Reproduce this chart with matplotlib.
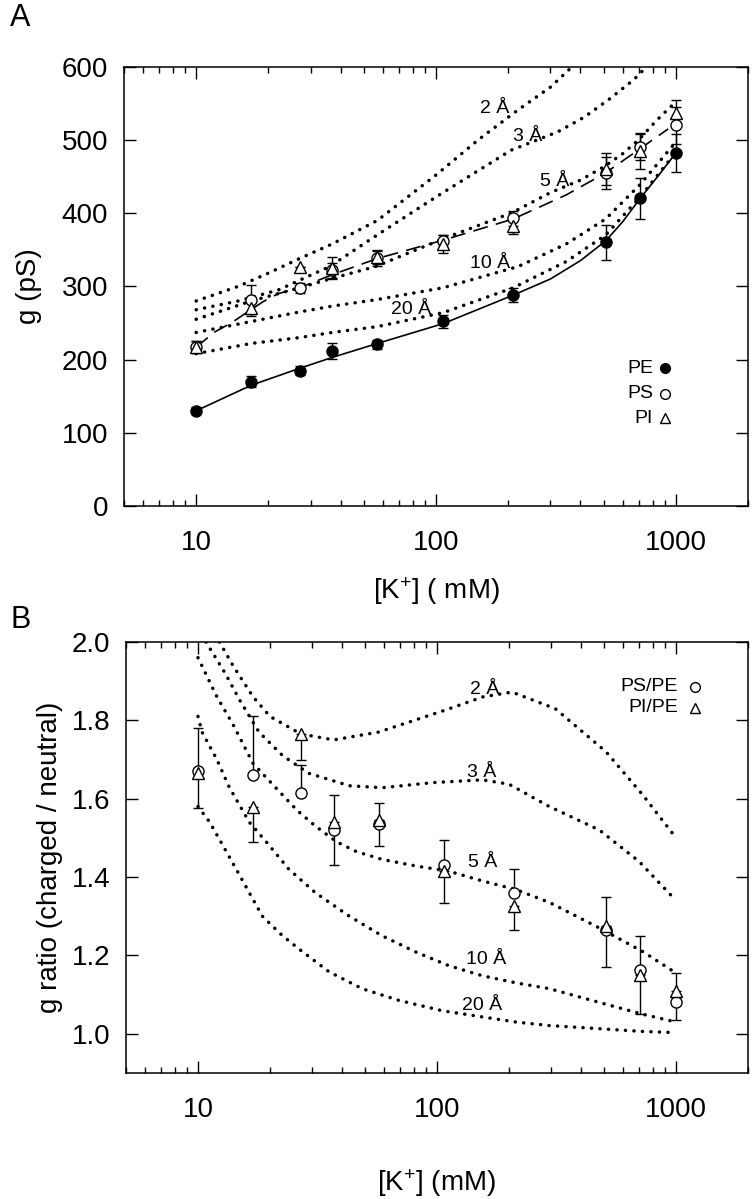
import matplotlib
matplotlib.use("Agg")
import matplotlib.pyplot as plt
from matplotlib.ticker import LogLocator, FuncFormatter, NullFormatter, MultipleLocator

plt.rcParams['font.family'] = ['Liberation Sans', 'DejaVu Sans']
plt.rcParams['mathtext.fontset'] = 'custom'
plt.rcParams['mathtext.rm'] = 'Liberation Sans'
plt.rcParams['mathtext.it'] = 'Liberation Sans:italic'
plt.rcParams['mathtext.bf'] = 'Liberation Sans:bold'

###############################################################
#               data, panel A  (g in pS)
###############################################################
conc = [10, 17, 27, 37, 57, 107, 210, 510, 710, 1000]

pe = [130, 170, 185, 212, 221, 252, 288, 360, 420, 482]
pe_err = [5, 8, 6, 11, 6, 9, 10, 24, 28, 26]
ps = [217, 282, 298, 322, 338, 362, 393, 455, 490, 520]
ps_err = [8, 20, 7, 10, 10, 8, 10, 22, 18, 25]
pi = [217, 270, 327, 325, 340, 358, 382, 460, 485, 537]
pi_err = [8, 10, 0, 15, 10, 12, 10, 22, 25, 18]

# fitted lines
pe_fit_x = [10, 17, 27, 37, 57, 107, 210, 300, 400, 510, 600, 710, 850, 1000]
pe_fit_y = [130, 165, 188, 203, 222, 249, 288, 310, 335, 362, 388, 420, 452, 482]
ps_fit_x = [10, 12, 14, 19, 22, 27, 37, 57, 107, 210, 350, 510, 710, 930]
ps_fit_y = [217, 238, 250, 279, 290, 298, 316, 338, 363, 392, 425, 455, 488, 515]

# model curves (dotted), by distance
a_x_2 = [10, 15, 20, 27, 37, 57, 100, 150, 220, 300, 370, 400]
a_y_2 = [280, 300, 318, 338, 358, 390, 452, 500, 541, 572, 600, 610]
a_x_3 = [10, 15, 22, 36, 58, 100, 150, 206, 322, 415, 525, 667, 800]
a_y_3 = [268, 280, 295, 327, 372, 422, 458, 486, 511, 531, 555, 582, 608]
a_x_5 = [10, 17, 27, 37, 56, 109, 206, 300, 400, 500, 600, 700, 834, 1000]
a_y_5 = [255, 280, 298, 311, 327, 366, 400, 428, 445, 463, 481, 500, 527, 552]
a_x_10 = [10, 17, 27, 37, 57, 107, 220, 350, 510, 710, 1000]
a_y_10 = [237, 252, 265, 273, 282, 298, 327, 358, 392, 439, 497]
a_x_20 = [10, 17, 27, 37, 57, 107, 210, 350, 510, 710, 1000]
a_y_20 = [208, 222, 230, 237, 245, 264, 298, 334, 370, 422, 483]

a_lbl = ['2 Å', '3 Å', '5 Å', '10 Å', '20 Å']
a_lbl_x = [176, 241, 312, 168, 79]
a_lbl_y = [543, 504, 443, 331, 268]

###############################################################
#               data, panel B  (ratio)
###############################################################
r_ps = [1.67, 1.66, 1.615, 1.52, 1.535, 1.43, 1.36, 1.265, 1.163, 1.08]
r_ps_lo = [0, 0, 0, 0.09, 0, 0, 0, 0.095, 0, 0.045]
r_ps_hi = [0.11, 0.15, 0.07, 0, 0.055, 0.065, 0.06, 0, 0.087, 0]
r_pi = [1.665, 1.58, 1.765, 1.54, 1.545, 1.415, 1.325, 1.275, 1.15, 1.11]
r_pi_lo = [0.09, 0.09, 0.065, 0, 0.065, 0.08, 0.06, 0, 0.10, 0]
r_pi_hi = [0, 0, 0, 0.07, 0, 0, 0, 0.075, 0, 0.045]

b_x_2 = [12.3, 14, 17, 20, 27, 37, 57, 107, 156, 206, 312, 509, 725, 1000]
b_y_2 = [2.0, 1.94, 1.86, 1.81, 1.765, 1.75, 1.77, 1.825, 1.86, 1.872, 1.83, 1.72, 1.61, 1.50]
b_x_3 = [10.8, 13, 15, 18, 22.6, 29, 43, 59, 96, 155, 200, 295, 478, 700, 1000]
b_y_3 = [2.0, 1.92, 1.85, 1.77, 1.71, 1.665, 1.633, 1.628, 1.641, 1.648, 1.637, 1.58, 1.52, 1.44, 1.34]
b_x_5 = [10, 12, 14, 17, 21, 26, 31, 38, 46, 59, 82, 112, 155, 214, 296, 478, 725, 1000]
b_y_5 = [1.96, 1.86, 1.79, 1.69, 1.63, 1.57, 1.53, 1.49, 1.465, 1.445, 1.428, 1.415, 1.39,
         1.368, 1.335, 1.27, 1.21, 1.155]
b_x_10 = [10, 10.4, 12, 13.5, 16.4, 19.3, 24, 31, 43, 59, 82, 112, 155, 214, 296, 478, 725, 1000]
b_y_10 = [1.81, 1.77, 1.70, 1.63, 1.54, 1.49, 1.42, 1.36, 1.30, 1.25, 1.208, 1.174, 1.148,
          1.13, 1.115, 1.08, 1.05, 1.03]
b_x_20 = [10, 11.2, 13, 15.4, 18.6, 22.6, 27.3, 35.4, 48.7, 69.5, 105, 155, 214, 296, 478, 725, 1000]
b_y_20 = [1.58, 1.54, 1.47, 1.39, 1.30, 1.25, 1.21, 1.158, 1.115, 1.085, 1.059, 1.043, 1.03,
          1.021, 1.013, 1.006, 1.003]

b_lbl = ['2 Å', '3 Å', '5 Å', '10 Å', '20 Å']
b_lbl_x = [158, 153, 155, 160, 155]
b_lbl_y = [1.878, 1.667, 1.437, 1.19, 1.072]

###############################################################
#                       plotting
###############################################################
dot = dict(color='black', lw=2.5, linestyle=(0, (0.05, 2.4)), dash_capstyle='round')
mk = dict(color='black', ms=8, mew=1.0, capsize=3.6, elinewidth=1.0, capthick=1.0, linestyle='none')
TXT = 14


def style(ax):
    ax.set_xscale('log')
    ax.set_xlim(5, 2000)
    ax.xaxis.set_major_locator(LogLocator(base=10))
    ax.xaxis.set_minor_locator(LogLocator(base=10, subs=range(2, 10)))
    ax.xaxis.set_major_formatter(FuncFormatter(lambda v, p: '%g' % v))
    ax.xaxis.set_minor_formatter(NullFormatter())
    ax.tick_params(which='both', direction='in', top=True, right=True, width=1.0, labelsize=20)
    ax.tick_params(which='major', length=8.6)
    ax.tick_params(which='minor', length=4.3)
    ax.tick_params(axis='x', pad=17)
    ax.tick_params(axis='y', pad=11.5)
    for s in ax.spines.values():
        s.set_linewidth(1.1)


fig = plt.figure(figsize=(7.55, 11.99), dpi=100)

# ---------------- A ----------------
ax = fig.add_axes([0.1642, 0.5780, 0.8265, 0.3664])
style(ax)
ax.set_ylim(0, 600)
ax.yaxis.set_major_locator(MultipleLocator(100))

for xx, yy in [(a_x_2, a_y_2), (a_x_3, a_y_3), (a_x_5, a_y_5), (a_x_10, a_y_10), (a_x_20, a_y_20)]:
    ax.plot(xx, yy, **dot)
for t, tx, ty in zip(a_lbl, a_lbl_x, a_lbl_y):
    ax.text(tx, ty, t, fontsize=TXT, ha='center', va='center')

ax.plot(pe_fit_x, pe_fit_y, color='black', lw=1.2)
ax.plot(ps_fit_x, ps_fit_y, color='black', lw=1.2, linestyle=(0, (9, 5)))

ax.errorbar(conc, pe, yerr=pe_err, marker='o', mfc='black', **mk)
ax.errorbar(conc, ps, yerr=ps_err, marker='o', mfc='white', **mk)
ax.errorbar(conc, pi, yerr=pi_err, marker='^', mfc='white', **mk)

ax.set_ylabel('g (pS)', fontsize=20, labelpad=14)
ax.set_xlabel(r'[K$^{\mathrm{+}}$] ( mM)', fontsize=20, labelpad=14)

for nm, m, fc, yy in [('PE', 'o', 'black', 0.314), ('PS', 'o', 'white', 0.255), ('PI', '^', 'white', 0.200)]:
    ax.text(0.848, yy, nm, transform=ax.transAxes, fontsize=TXT, ha='right', va='center')
    ax.plot([0.867], [yy], transform=ax.transAxes, marker=m, mfc=fc, mec='black', ms=7, mew=1.0,
            linestyle='none')

# ---------------- B ----------------
bx = fig.add_axes([0.1669, 0.1051, 0.8238, 0.3595])
style(bx)
bx.set_ylim(0.9, 2.0)
bx.yaxis.set_major_locator(MultipleLocator(0.2))
bx.yaxis.set_major_formatter(FuncFormatter(lambda v, p: '%.1f' % v))

for xx, yy in [(b_x_2, b_y_2), (b_x_3, b_y_3), (b_x_5, b_y_5), (b_x_10, b_y_10), (b_x_20, b_y_20)]:
    bx.plot(xx, yy, **dot)
for t, tx, ty in zip(b_lbl, b_lbl_x, b_lbl_y):
    bx.text(tx, ty, t, fontsize=TXT, ha='center', va='center')

bx.errorbar(conc, r_ps, yerr=[r_ps_lo, r_ps_hi], marker='o', mfc='white', **mk)
bx.errorbar(conc, r_pi, yerr=[r_pi_lo, r_pi_hi], marker='^', mfc='white', **mk)

bx.set_ylabel('g ratio (charged / neutral)', fontsize=20, labelpad=6)
bx.set_xlabel(r'[K$^{\mathrm{+}}$] (mM)', fontsize=20, labelpad=32)

for nm, m, yy in [('PS/PE', 'o', 0.896), ('PI/PE', '^', 0.847)]:
    bx.text(0.887, yy, nm, transform=bx.transAxes, fontsize=TXT, ha='right', va='center')
    bx.plot([0.915], [yy], transform=bx.transAxes, marker=m, mfc='white', mec='black', ms=7, mew=1.0,
            linestyle='none')

fig.text(0.027, 1 - 18 / 1199, 'A', fontsize=22, va='center', ha='center')
fig.text(0.027, 1 - 620 / 1199, 'B', fontsize=22, va='center', ha='center')

fig.savefig('out.png', dpi=100)
